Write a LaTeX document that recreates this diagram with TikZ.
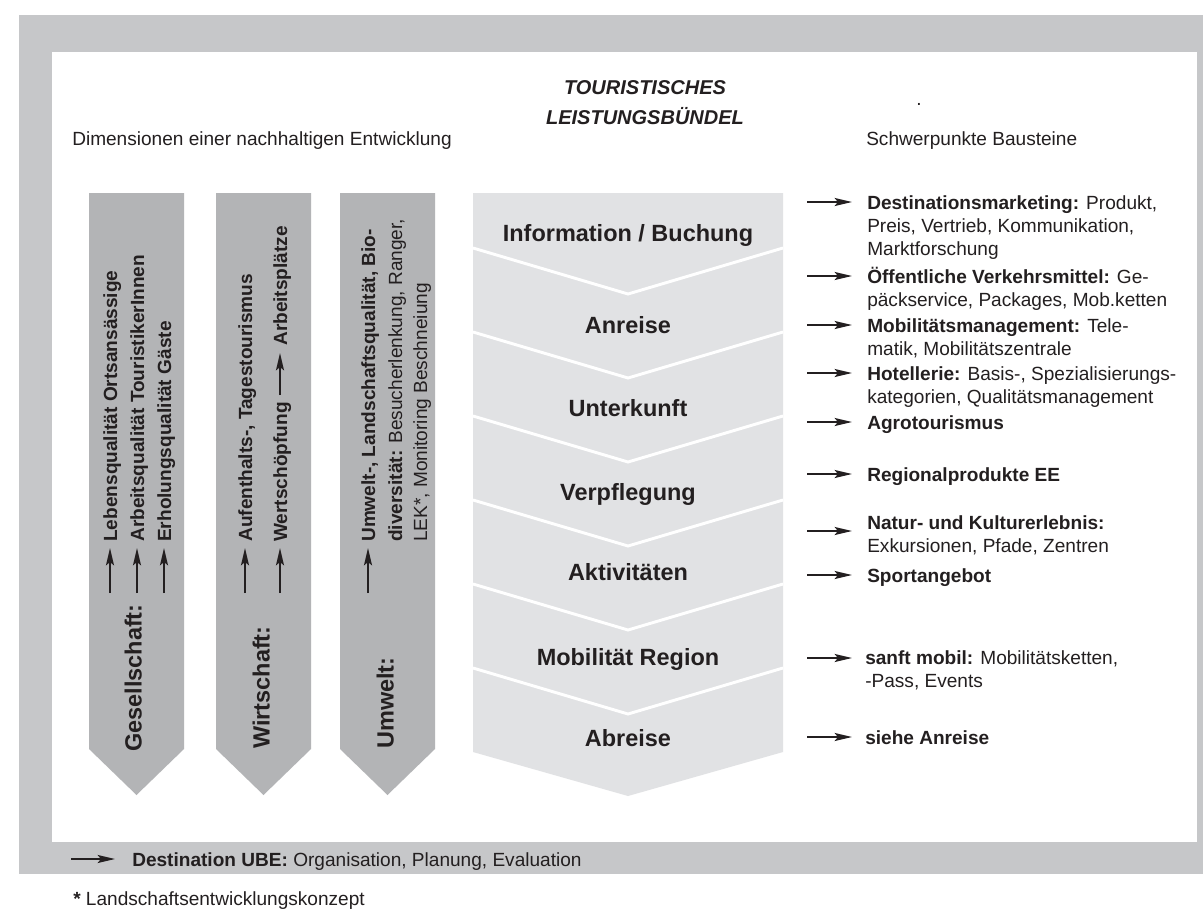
\documentclass[tikz,border=0pt]{standalone}
\usepackage{fontspec}
\setmainfont{Liberation Sans}
\usepackage{tikz}
\usetikzlibrary{arrows.meta}
\definecolor{rahmengrau}{RGB}{198,199,201}
\definecolor{saeulengrau}{RGB}{179,180,182}
\definecolor{kettengrau}{RGB}{225,226,228}
\definecolor{schwarz}{RGB}{35,31,32}
\newcommand{\zeilen}[2][l]{\begin{tabular}[t]{@{}#1@{}}#2\end{tabular}}
\tikzset{
    %Define standard arrow tip
    >={Stealth[length=13pt,width=6pt,inset=2.5pt]},
    %Define style for plain text
    textblock/.style={
           inner sep=0pt,
           text=schwarz,
           anchor=base west,
           font=\fontsize{14.3}{17.4}\selectfont},
    %Define style for the rotated column texts
    saeulentext/.style={
           textblock,
           rotate=90},
    saeulenkopf/.style={
           saeulentext,
           font=\fontsize{17.6}{20}\selectfont\bfseries},
    %Define style for the stages of the chain
    stufe/.style={
           inner sep=0pt,
           text=schwarz,
           anchor=base,
           font=\fontsize{17.6}{20}\selectfont\bfseries},
    titel/.style={
           inner sep=0pt,
           text=schwarz,
           anchor=base,
           font=\fontsize{15}{22.5}\selectfont\bfseries\itshape},
    % Define arrow style
    pfeil/.style={
           ->,
           line width=1.4pt,
           draw=schwarz},
    trenn/.style={
           draw=white,
           line width=2.2pt}
}

\begin{document}
\begin{tikzpicture}[x=0.75pt,y=-0.75pt]
\useasboundingbox (0,0) rectangle (1203,910);
 %frame
\fill[rahmengrau] (19,15) rectangle (1203,874);
\fill[white] (52,52) rectangle (1197,842);
 %headings
\node[titel] (titel) at (645,94) {\zeilen[c]{TOURISTISCHES\\LEISTUNGSBÜNDEL}};
\node[textblock] (punkt) at (916,105) {.};
\node[textblock] (dimens) at (72,145) {Dimensionen einer nachhaltigen Entwicklung};
\node[textblock] (schwerp) at (866,145) {Schwerpunkte Bausteine};
 %columns
\fill[saeulengrau] (89,193) -- (184,193) -- (184,749) -- (136.5,795) -- (89,749) -- cycle;
\fill[saeulengrau] (216,193) -- (311,193) -- (311,749) -- (263.5,795) -- (216,749) -- cycle;
\fill[saeulengrau] (340,193) -- (435,193) -- (435,749) -- (387.5,795) -- (340,749) -- cycle;
\node[saeulenkopf] (ges) at (141.5,752) {Gesellschaft:};
\node[saeulentext] (leb) at (117,542) {\textbf{Lebensqualität Ortsansässige}};
\node[saeulentext] (arb) at (144,542) {\textbf{Arbeitsqualität TouristikerInnen}};
\node[saeulentext] (erh) at (171,542) {\textbf{Erholungsqualität Gäste}};
\draw[pfeil] (leb.base west) ++(-7,51) -- ++(0,-45);
\draw[pfeil] (arb.base west) ++(-7,51) -- ++(0,-45);
\draw[pfeil] (erh.base west) ++(-7,51) -- ++(0,-45);
\node[saeulenkopf] (wirt) at (269.5,749) {Wirtschaft:};
\node[saeulentext] (aufent) at (252,542) {\textbf{Aufenthalts-, Tagestourismus}};
\node[saeulentext] (wert) at (287,542) {\textbf{Wertschöpfung}};
\path (wert.base east) ++(0,-56) node[saeulentext] (arbpl) {\textbf{Arbeitsplätze}};
\draw[pfeil] (aufent.base west) ++(-7,51) -- ++(0,-45);
\draw[pfeil] (wert.base west) ++(-7,51) -- ++(0,-45);
\draw[pfeil] (wert.base east) ++(-7,-7) -- ++(0,-42);
\node[saeulenkopf] (umw) at (393.5,749) {Umwelt:};
\node[saeulentext] (umwa) at (375,542) {\textbf{Umwelt-, Landschaftsqualität, Bio-}};
\node[saeulentext] (umwb) at (402,542) {\textbf{diversität:} Besucherlenkung, Ranger,};
\node[saeulentext] (umwc) at (427,542) {LEK*, Monitoring Beschneiung};
\draw[pfeil] (umwa.base west) ++(-7,51) -- ++(0,-45);
 %chain
\fill[kettengrau] (473,193) -- (783,193) -- (783,752) -- (628,796) -- (473,752) -- cycle;
\draw[trenn] (473,248) -- (628,294) -- (783,248);
\draw[trenn] (473,332) -- (628,378) -- (783,332);
\draw[trenn] (473,416) -- (628,462) -- (783,416);
\draw[trenn] (473,500) -- (628,546) -- (783,500);
\draw[trenn] (473,584) -- (628,630) -- (783,584);
\draw[trenn] (473,668) -- (628,714) -- (783,668);
\node[stufe] (info) at (628,241) {Information / Buchung};
\node[stufe] (anreise) at (628,333) {Anreise};
\node[stufe] (unterk) at (628,416) {Unterkunft};
\node[stufe] (verpfl) at (628,500) {Verpflegung};
\node[stufe] (aktiv) at (628,580) {Aktivitäten};
\node[stufe] (mobreg) at (628,665) {Mobilität Region};
\node[stufe] (abreise) at (628,746) {Abreise};
 %building blocks
\node[textblock] (destm) at (867,209) {\zeilen{\textbf{Destinationsmarketing:} Produkt,\\Preis, Vertrieb, Kommunikation,\\Marktforschung}};
\node[textblock] (oeffv) at (867,283) {\zeilen{\textbf{Öffentliche Verkehrsmittel:} Ge-\\päckservice, Packages, Mob.ketten}};
\node[textblock] (mobman) at (867,332) {\zeilen{\textbf{Mobilitätsmanagement:} Tele-\\matik, Mobilitätszentrale}};
\node[textblock] (hotel) at (867,380) {\zeilen{\textbf{Hotellerie:} Basis-, Spezialisierungs-\\kategorien, Qualitätsmanagement}};
\node[textblock] (agro) at (867,429) {\textbf{Agrotourismus}};
\node[textblock] (regio) at (867,481) {\textbf{Regionalprodukte EE}};
\node[textblock] (natur) at (867,529) {\zeilen{\textbf{Natur- und Kulturerlebnis:}\\Exkursionen, Pfade, Zentren}};
\node[textblock] (sport) at (867,582) {\textbf{Sportangebot}};
\node[textblock] (sanft) at (865,664) {\zeilen{\textbf{sanft mobil:} Mobilitätsketten,\\-Pass, Events}};
\node[textblock] (siehe) at (865,744) {\textbf{siehe Anreise}};
\draw[pfeil] (destm.base west) ++(-60,-7) -- ++(45,0);
\draw[pfeil] (oeffv.base west) ++(-60,-7) -- ++(45,0);
\draw[pfeil] (mobman.base west) ++(-60,-7) -- ++(45,0);
\draw[pfeil] (hotel.base west) ++(-60,-7) -- ++(45,0);
\draw[pfeil] (agro.base west) ++(-60,-7) -- ++(45,0);
\draw[pfeil] (regio.base west) ++(-60,-7) -- ++(45,0);
\draw[pfeil] (natur.base west) ++(-60,2) -- ++(45,0);
\draw[pfeil] (sport.base west) ++(-60,-7) -- ++(45,0);
\draw[pfeil] (sanft.base west) ++(-58,-6) -- ++(45,0);
\draw[pfeil] (siehe.base west) ++(-58,-7) -- ++(45,0);
 %bottom band and footnote
\node[textblock] (ube) at (132,866) {\textbf{Destination UBE:} Organisation, Planung, Evaluation};
\draw[pfeil] (ube.base west) ++(-61,-7) -- ++(44,0);
\node[textblock] (fussnote) at (73,905) {\textbf{*} Landschaftsentwicklungskonzept};
\end{tikzpicture}
\end{document}
